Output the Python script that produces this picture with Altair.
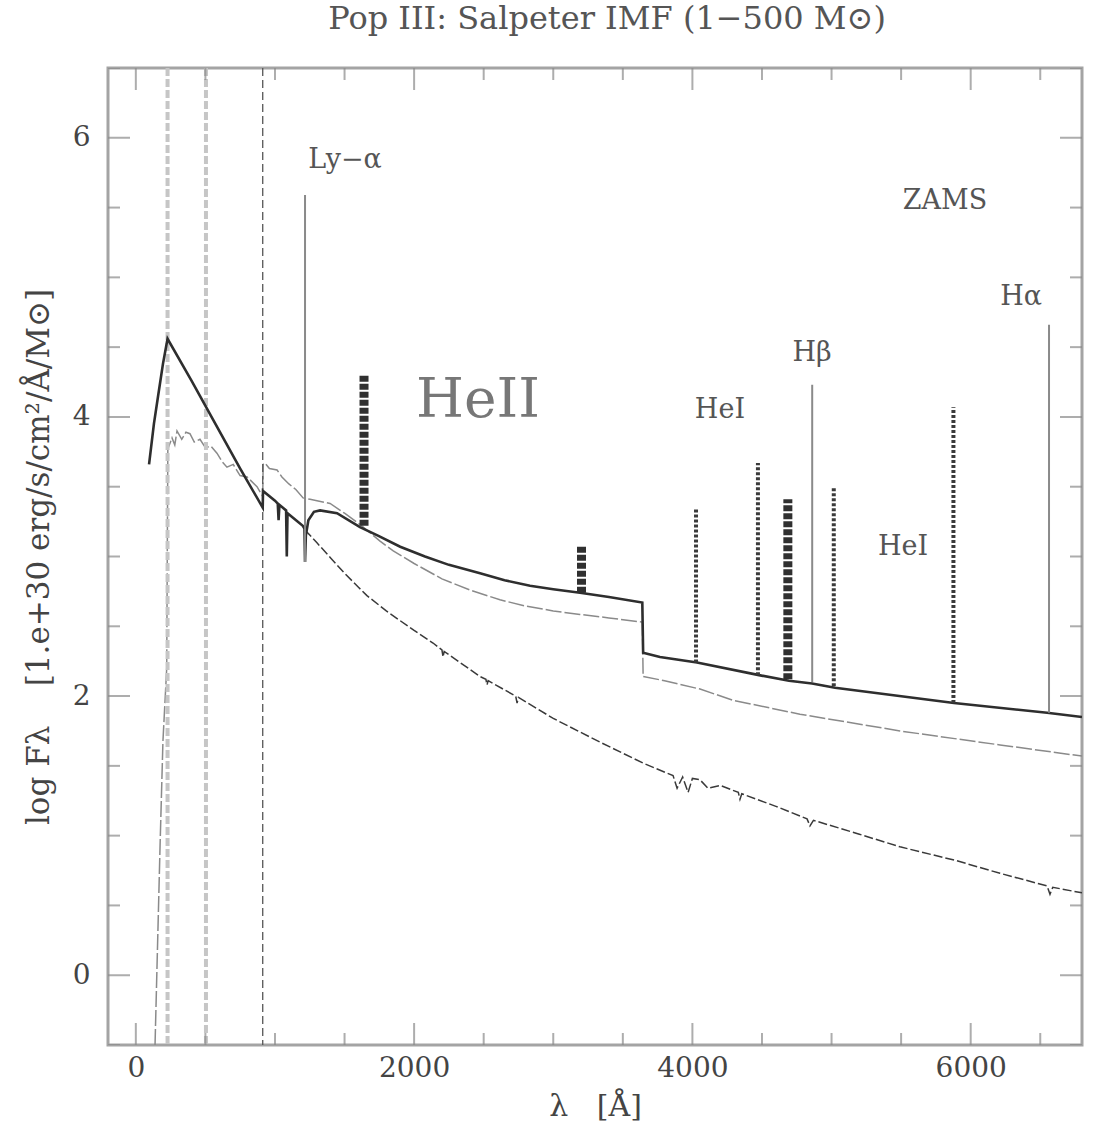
import altair as alt
import pandas as pd

# ---------------- data ----------------
# thick solid: total (stellar + nebular) continuum
total_wl = [95, 130, 160, 195, 228, 400, 555, 750, 912, 914, 1000, 1020, 1026, 1032, 1080, 1085, 1090,
            1200, 1212, 1216, 1222, 1240, 1280, 1324, 1446, 1611, 1740, 1900, 2078, 2250, 2474, 2650,
            2833, 3000, 3192, 3400, 3640, 3646, 3767, 4033, 4479, 4694, 4860, 5025, 5880, 6549, 6800]
total_lf = [3.66, 3.95, 4.15, 4.38, 4.56, 4.26, 3.98, 3.63, 3.35, 3.47, 3.40, 3.38, 3.26, 3.37, 3.33, 3.00, 3.31,
            3.22, 3.20, 2.96, 3.15, 3.26, 3.32, 3.33, 3.31, 3.21, 3.15, 3.07, 3.00, 2.94, 2.88, 2.83,
            2.79, 2.765, 2.74, 2.71, 2.67, 2.31, 2.28, 2.24, 2.15, 2.11, 2.09, 2.06, 1.95, 1.88, 1.85]

# thin grey: second continuum
grey_wl = [138, 174, 195, 222, 226, 230, 260, 280, 296, 330, 360, 389, 420, 461, 500, 540,
           583, 620, 655, 700, 749, 800, 871, 912, 915, 928, 960, 1015, 1050, 1100, 1150,
           1202, 1252, 1396, 1500, 1611, 1755, 1850, 2000, 2200, 2400, 2617, 2800, 3000, 3192,
           3400, 3640, 3646, 3800, 4055, 4292, 4773, 5492, 6211, 6800]
grey_lf = [-0.50, 0.92, 1.68, 2.20, 3.00, 3.77, 3.85, 3.80, 3.90, 3.84, 3.89, 3.88, 3.82, 3.84, 3.78, 3.79,
           3.74, 3.68, 3.64, 3.66, 3.58, 3.57, 3.50, 3.43, 3.66, 3.67, 3.63, 3.62, 3.57, 3.52, 3.48,
           3.42, 3.41, 3.38, 3.31, 3.23, 3.11, 3.04, 2.95, 2.84, 2.76, 2.69, 2.645, 2.61, 2.585,
           2.56, 2.53, 2.14, 2.11, 2.05, 1.97, 1.87, 1.75, 1.65, 1.57]

# dashed: stellar continuum
star_wl = [1216, 1300, 1400, 1500, 1600, 1661, 1800, 1900, 2000, 2136, 2200, 2208, 2216, 2474, 2516, 2524,
           2532, 2730, 2740, 2750, 3000, 3336, 3645, 3861, 3890, 3930, 3969, 4000, 4055, 4112, 4200,
           4330, 4342, 4355, 4600, 4824, 4845, 4870, 5200, 5492, 5900, 6211, 6549, 6570, 6590, 6800]
star_lf = [3.19, 3.10, 2.99, 2.88, 2.78, 2.72, 2.61, 2.54, 2.47, 2.38, 2.33, 2.28, 2.32, 2.14, 2.12, 2.08,
           2.11, 2.00, 1.95, 1.99, 1.84, 1.67, 1.52, 1.43, 1.34, 1.42, 1.31, 1.41, 1.40, 1.34, 1.36,
           1.31, 1.26, 1.30, 1.21, 1.12, 1.07, 1.11, 1.01, 0.92, 0.82, 0.73, 0.64, 0.58, 0.63, 0.59]

# ionisation edges (vertical dashed lines)
edge_wl = [228, 504, 912]
edge_kind = ["HeII", "HeI", "HI"]

# emission lines
line_wl = [1216, 1640, 3203, 4026, 4471, 4686, 4861, 5016, 5876, 6563]
line_lo = [2.96, 3.22, 2.74, 2.24, 2.15, 2.12, 2.10, 2.07, 1.95, 1.88]
line_hi = [5.59, 4.31, 3.07, 3.35, 3.67, 3.41, 4.23, 3.50, 4.07, 4.66]
line_kind = ["H", "HeII", "HeII", "HeI", "HeI", "HeII", "H", "HeI", "HeI", "H"]

# annotations
note_text = ["Ly\u2212\u03b1", "HeI", "H\u03b2", "HeI", "ZAMS", "H\u03b1"]
note_wl = [1503, 4198, 4860, 5514, 5815, 6362]
note_lf = [5.84, 4.05, 4.46, 3.07, 5.55, 4.86]
big_text = ["HeII"]
big_wl = [2459]
big_lf = [4.12]

# axis ticks
x_major = [0, 2000, 4000, 6000]
x_minor = [500, 1000, 1500, 2500, 3000, 3500, 4500, 5000, 5500, 6500]
y_major = [0, 2, 4, 6]
y_minor = [-0.5, 0.5, 1, 1.5, 2.5, 3, 3.5, 4.5, 5, 5.5, 6.5]

# ---------------- chart ----------------
W, H = 974, 977
FONT = "DejaVu Serif"
XDOM = [-200, 6800]
YDOM = [-0.5, 6.5]
NB = "\u00a0"

xs = alt.Scale(domain=XDOM, nice=False, zero=False)
ys = alt.Scale(domain=YDOM, nice=False, zero=False)

def series(wl, lf):
    return pd.DataFrame({"wl": wl, "lf": lf, "i": range(len(wl))})

X = alt.X("wl:Q", scale=xs,
          axis=alt.Axis(values=x_major, ticks=False, domain=False, grid=False,
                        labelFontSize=28, labelFont=FONT, labelColor="#444",
                        labelPadding=9, title="\u03bb" + NB * 3 + "[\u00c5]", titleFont=FONT,
                        titleFontSize=30, titleColor="#444", titleFontWeight="normal",
                        titlePadding=9, format="d"))
Y = alt.Y("lf:Q", scale=ys,
          axis=alt.Axis(values=y_major, ticks=False, domain=False, grid=False,
                        labelFontSize=28, labelFont=FONT, labelColor="#444",
                        labelPadding=18,
                        title="log" + NB + "F\u03bb" + NB * 4 + "[1.e+30" + NB + "erg/s/cm\u00b2/\u00c5/M\u2299]",
                        titleFont=FONT, titleFontSize=31, titleColor="#444",
                        titleFontWeight="normal", titlePadding=17, format="d"))

edges = pd.DataFrame({"wl": edge_wl, "kind": edge_kind})
edge_light = alt.Chart(edges[edges.kind != "HI"]).mark_rule(
    color="#c6c6c6", strokeWidth=4, strokeDash=[8, 3]).encode(x=alt.X("wl:Q", scale=xs))
edge_dark = alt.Chart(edges[edges.kind == "HI"]).mark_rule(
    color="#555", strokeWidth=1.3, strokeDash=[8, 4]).encode(x=alt.X("wl:Q", scale=xs))

grey = alt.Chart(series(grey_wl, grey_lf)).mark_line(
    color="#8a8a8a", strokeWidth=1.5, strokeDash=[16, 3], clip=True).encode(
    x=X, y=Y, order="i:Q")
star = alt.Chart(series(star_wl, star_lf)).mark_line(
    color="#3a3a3a", strokeWidth=1.5, strokeDash=[9, 3], clip=True).encode(
    x=alt.X("wl:Q", scale=xs), y=alt.Y("lf:Q", scale=ys), order="i:Q")
total = alt.Chart(series(total_wl, total_lf)).mark_line(
    color="#2e2e2e", strokeWidth=2.6, clip=True).encode(
    x=alt.X("wl:Q", scale=xs), y=alt.Y("lf:Q", scale=ys), order="i:Q")

lines = pd.DataFrame({"wl": line_wl, "lo": line_lo, "hi": line_hi, "kind": line_kind})
lx = alt.X("wl:Q", scale=xs)
ly = alt.Y("lo:Q", scale=ys)
ly2 = alt.Y2("hi:Q")
h_lines = alt.Chart(lines[lines.kind == "H"]).mark_rule(
    color="#8a8a8a", strokeWidth=2).encode(x=lx, y=ly, y2=ly2)
he2_lines = alt.Chart(lines[lines.kind == "HeII"]).mark_rule(
    color="#303030", strokeWidth=9, strokeDash=[6, 2]).encode(x=lx, y=ly, y2=ly2)
he1_lines = alt.Chart(lines[lines.kind == "HeI"]).mark_rule(
    color="#3a3a3a", strokeWidth=4, strokeDash=[3, 2]).encode(x=lx, y=ly, y2=ly2)

notes = pd.DataFrame({"t": note_text, "wl": note_wl, "lf": note_lf})
note_layer = alt.Chart(notes).mark_text(
    font=FONT, fontSize=27, color="#555", align="center", baseline="middle").encode(
    x=alt.X("wl:Q", scale=xs), y=alt.Y("lf:Q", scale=ys), text="t:N")
big = pd.DataFrame({"t": big_text, "wl": big_wl, "lf": big_lf})
big_layer = alt.Chart(big).mark_text(
    font=FONT, fontSize=55, color="#777", align="center", baseline="middle").encode(
    x=alt.X("wl:Q", scale=xs), y=alt.Y("lf:Q", scale=ys), text="t:N")

# inward ticks on all four sides
def xticks(vals, size, ypix):
    return alt.Chart(pd.DataFrame({"wl": vals})).mark_tick(
        orient="vertical", size=size, thickness=2, color="#8a8a8a", clip=True).encode(
        x=alt.X("wl:Q", scale=xs), y=alt.value(ypix))

def yticks(vals, size, xpix):
    return alt.Chart(pd.DataFrame({"lf": vals})).mark_tick(
        orient="horizontal", size=size, thickness=2, color="#8a8a8a", clip=True).encode(
        y=alt.Y("lf:Q", scale=ys), x=alt.value(xpix))

ticks = [xticks(x_major, 44, H), xticks(x_minor, 24, H),
         xticks(x_major, 44, 0), xticks(x_minor, 24, 0),
         yticks(y_major, 44, 0), yticks(y_minor, 24, 0),
         yticks(y_major, 44, W), yticks(y_minor, 24, W)]

chart = alt.layer(
    grey, edge_light, edge_dark, star, total, h_lines, he1_lines, he2_lines,
    note_layer, big_layer, *ticks
).properties(
    width=W, height=H,
    title=alt.TitleParams("Pop III: Salpeter IMF (1\u2212500 M\u2299)", font=FONT,
                          fontSize=32, fontWeight="normal", color="#555",
                          anchor="middle", offset=30, dx=12),
    padding={"left": 108, "top": 68, "right": 31, "bottom": 93},
    autosize="none",
    background="white",
).configure_view(stroke="#a4a4a4", strokeWidth=3)

chart.save("out.html", embed_options={"renderer": "svg", "actions": False})
